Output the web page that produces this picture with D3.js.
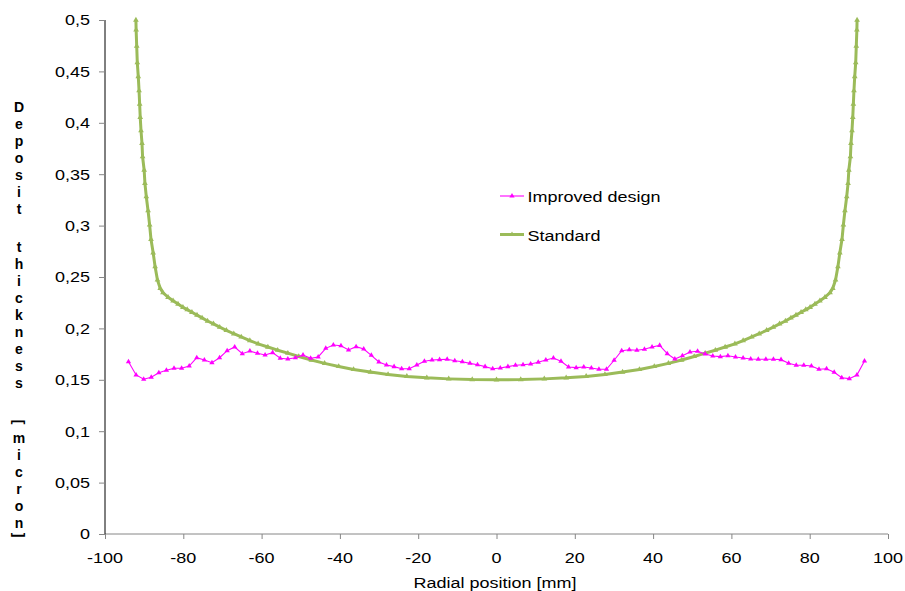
<!DOCTYPE html>
<html>
<head>
<meta charset="utf-8">
<script src="https://cdn.jsdelivr.net/npm/d3@7"></script>
<style>
  body { margin: 0; background: #fff; }
  svg { display: block; font-family: Arial, "Liberation Sans", sans-serif; }
</style>
</head>
<body>
<svg id="chart" width="905" height="591"></svg>
<script>
// Deposit thickness across the radius, standard vs improved design

const improvedX = [
  -94.00, -92.06, -90.12, -88.19, -86.25, -84.31, -82.37, -80.43, -78.49, -76.56,
  -74.62, -72.68, -70.74, -68.80, -66.87, -64.93, -62.99, -61.05, -59.11, -57.18,
  -55.24, -53.30, -51.36, -49.42, -47.48, -45.55, -43.61, -41.67, -39.73, -37.79,
  -35.86, -33.92, -31.98, -30.04, -28.10, -26.16, -24.23, -22.29, -20.35, -18.41,
  -16.47, -14.54, -12.60, -10.66, -8.72, -6.78, -4.85, -2.91, -0.97, 0.97,
  2.91, 4.85, 6.78, 8.72, 10.66, 12.60, 14.54, 16.47, 18.41, 20.35,
  22.29, 24.23, 26.16, 28.10, 30.04, 31.98, 33.92, 35.86, 37.79, 39.73,
  41.67, 43.61, 45.55, 47.48, 49.42, 51.36, 53.30, 55.24, 57.18, 59.11,
  61.05, 62.99, 64.93, 66.87, 68.80, 70.74, 72.68, 74.62, 76.56, 78.49,
  80.43, 82.37, 84.31, 86.25, 88.19, 90.12, 92.06, 94.00
];
const improvedY = [
  0.1676, 0.1547, 0.1505, 0.1524, 0.1569, 0.1592, 0.1612, 0.1612, 0.1634, 0.1715,
  0.1693, 0.1666, 0.1715, 0.1783, 0.1819, 0.1754, 0.1780, 0.1758, 0.1741, 0.1764,
  0.1709, 0.1702, 0.1715, 0.1741, 0.1709, 0.1722, 0.1806, 0.1839, 0.1832, 0.1790,
  0.1822, 0.1800, 0.1738, 0.1673, 0.1644, 0.1628, 0.1608, 0.1608, 0.1644, 0.1680,
  0.1693, 0.1696, 0.1700, 0.1686, 0.1676, 0.1660, 0.1647, 0.1628, 0.1608, 0.1615,
  0.1628, 0.1641, 0.1647, 0.1654, 0.1670, 0.1693, 0.1712, 0.1680, 0.1625, 0.1618,
  0.1625, 0.1615, 0.1602, 0.1602, 0.1690, 0.1783, 0.1793, 0.1787, 0.1797, 0.1819,
  0.1835, 0.1754, 0.1702, 0.1734, 0.1770, 0.1777, 0.1751, 0.1732, 0.1725, 0.1734,
  0.1722, 0.1712, 0.1702, 0.1700, 0.1700, 0.1700, 0.1696, 0.1660, 0.1641, 0.1641,
  0.1634, 0.1602, 0.1608, 0.1573, 0.1520, 0.1511, 0.1547, 0.1683
];

const standardX = [
  -92.1, -92.05, -91.9, -91.75, -91.5, -91.3, -91.15, -91.0, -90.8, -90.55,
  -90.4, -90.0, -89.8, -89.45, -89.0, -88.6, -88.25, -87.7, -87.2, -86.6,
  -85.9, -85.2, -83.9, -82.6, -81.35, -80.1, -79.0, -77.8, -76.5, -75.2,
  -73.8, -72.3, -70.7, -69.0, -67.1, -65.2, -63.0, -60.9, -58.4, -55.9,
  -53.3, -50.5, -47.3, -43.9, -40.3, -36.5, -32.2, -27.7, -22.9, -17.8,
  -12.2, -6.2, 0,
  6.2, 12.2, 17.8, 22.9, 27.7, 32.2, 36.5, 40.3, 43.9, 47.3,
  50.5, 53.3, 55.9, 58.4, 60.9, 63.0, 65.2, 67.1, 69.0, 70.7,
  72.3, 73.8, 75.2, 76.5, 77.8, 79.0, 80.1, 81.35, 82.6, 83.9,
  85.2, 85.9, 86.6, 87.2, 87.7, 88.25, 88.6, 89.0, 89.45, 89.8,
  90.0, 90.4, 90.55, 90.8, 91.0, 91.15, 91.3, 91.5, 91.75, 91.9,
  92.05, 92.1
];
const standardY = [
  0.5000, 0.4903, 0.4747, 0.4585, 0.4449, 0.4312, 0.4183, 0.4053, 0.3923, 0.3801,
  0.3670, 0.3541, 0.3411, 0.3281, 0.3145, 0.3006, 0.2867, 0.2736, 0.2600, 0.2471,
  0.2390, 0.2347, 0.2303, 0.2269, 0.2237, 0.2205, 0.2183, 0.2157, 0.2129, 0.2102,
  0.2072, 0.2044, 0.2012, 0.1981, 0.1948, 0.1917, 0.1881, 0.1850, 0.1819, 0.1788,
  0.1759, 0.1727, 0.1692, 0.1660, 0.1630, 0.1601, 0.1575, 0.1552, 0.1533, 0.1519,
  0.1509, 0.1502, 0.1500,
  0.1502, 0.1509, 0.1519, 0.1533, 0.1552, 0.1575, 0.1601, 0.1630, 0.1660, 0.1692,
  0.1727, 0.1759, 0.1788, 0.1819, 0.1850, 0.1881, 0.1917, 0.1948, 0.1981, 0.2012,
  0.2044, 0.2072, 0.2102, 0.2129, 0.2157, 0.2183, 0.2205, 0.2237, 0.2269, 0.2303,
  0.2347, 0.2390, 0.2471, 0.2600, 0.2736, 0.2867, 0.3006, 0.3145, 0.3281, 0.3411,
  0.3541, 0.3670, 0.3801, 0.3923, 0.4053, 0.4183, 0.4312, 0.4449, 0.4585, 0.4747,
  0.4903, 0.5000
];

const xTicks = [-100, -80, -60, -40, -20, 0, 20, 40, 60, 80, 100];
const yTicks = [0, 0.05, 0.1, 0.15, 0.2, 0.25, 0.3, 0.35, 0.4, 0.45, 0.5];
const yTickLabels = ['0', '0,05', '0,1', '0,15', '0,2', '0,25', '0,3', '0,35', '0,4', '0,45', '0,5'];
const seriesNames = ['Improved design', 'Standard'];
const seriesColors = ['#ff00ff', '#9bbb59'];
const xTitle = 'Radial position [mm]';
const yTitle = 'Deposit thickness [micron]';

const svg = d3.select('#chart');
const x = d3.scaleLinear().domain([-100, 100]).range([105, 888]);
const y = d3.scaleLinear().domain([0, 0.5]).range([534, 20]);

const FONT = 15, STRETCH = 1.2;

// text is a bit wide in the original, so stretch it horizontally
function label(g, px, py, str, anchor) {
  return g.append('text')
    .attr('transform', `translate(${px},${py}) scale(${STRETCH},1)`)
    .attr('text-anchor', anchor || 'start')
    .attr('font-size', FONT)
    .attr('fill', '#000')
    .text(str);
}

// axes
const xAxis = svg.append('g').attr('transform', `translate(0,${y(0)})`)
  .call(d3.axisBottom(x).tickValues(xTicks).tickSize(5).tickFormat(''));
xAxis.select('.domain').attr('stroke', '#868686').attr('d', `M${x(-100)},0H${x(100)}`);
xAxis.selectAll('.tick line').attr('stroke', '#868686');

const yAxis = svg.append('g').attr('transform', `translate(${x(-100)},0)`)
  .call(d3.axisLeft(y).tickValues(yTicks).tickSize(6).tickFormat(''));
yAxis.select('.domain').attr('stroke', '#000').attr('d', `M0,${y(0)}V${y(0.5)}`);
yAxis.selectAll('.tick line').attr('stroke', '#868686');

const labels = svg.append('g');
xTicks.forEach(t => label(labels, x(t), 562.5, String(t), 'middle'));
yTicks.forEach((t, i) => label(labels, 90, y(t) + 5.3, yTickLabels[i], 'end'));
label(labels, 495, 588, xTitle, 'middle');

// stacked vertical y title
const yt = svg.append('g').attr('font-weight', 'bold').attr('font-size', 14).attr('text-anchor', 'middle');
let cy = 112;
yTitle.split('').forEach(ch => {
  if (ch === '[' || ch === ']') {
    const by = ch === '[' ? cy - 4 : cy - 10;
    yt.append('text').attr('transform', `translate(19,${by}) rotate(90)`)
      .attr('dy', '0.35em').text(ch);
    cy += 10;
    if (ch === '[') cy += 7;
    return;
  }
  if (ch !== ' ') yt.append('text').attr('x', 19).attr('y', cy).text(ch);
  cy += 17;
  if (ch === ' ') cy += 4;
});

// series
const improved = improvedX.map((v, i) => [v, improvedY[i]]);
const standard = standardX.map((v, i) => [v, standardY[i]]);
const line = d3.line().x(d => x(d[0])).y(d => y(d[1]));
const tri = d3.symbol().type(d3.symbolTriangle);

svg.append('path').datum(standard).attr('d', line)
  .attr('fill', 'none').attr('stroke', seriesColors[1]).attr('stroke-width', 3)
  .attr('stroke-linejoin', 'round');
svg.append('g').selectAll('path').data(standard).join('path')
  .attr('transform', d => `translate(${x(d[0])},${y(d[1])})`)
  .attr('d', tri.size(14)).attr('fill', seriesColors[1]);

svg.append('path').datum(improved).attr('d', line)
  .attr('fill', 'none').attr('stroke', seriesColors[0]).attr('stroke-width', 1.1);
svg.append('g').selectAll('path').data(improved).join('path')
  .attr('transform', d => `translate(${x(d[0])},${y(d[1])})`)
  .attr('d', tri.size(12)).attr('fill', seriesColors[0]);

// legend
const legend = svg.append('g');
const legendY = [196, 234.5];
const legendW = [1.1, 3];
seriesNames.forEach((name, i) => {
  legend.append('line').attr('x1', 500).attr('x2', 524)
    .attr('y1', legendY[i]).attr('y2', legendY[i])
    .attr('stroke', seriesColors[i]).attr('stroke-width', legendW[i]);
  legend.append('path').attr('transform', `translate(512,${legendY[i]})`)
    .attr('d', tri.size(12)).attr('fill', seriesColors[i]);
  label(legend, 527.5, legendY[i] + 6, name, 'start');
});
</script>
</body>
</html>
